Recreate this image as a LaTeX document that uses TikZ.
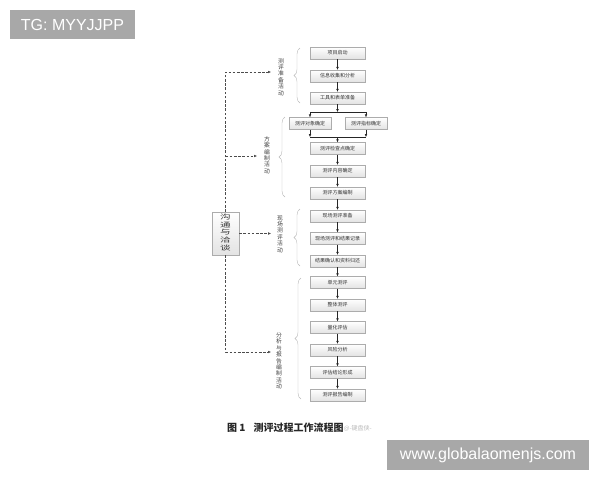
\documentclass[tikz,border=0pt]{standalone}
\usepackage{fontspec}
\setmainfont{Noto Sans CJK SC}
\newfontfamily\wmfont{Liberation Sans}
\usepackage{graphicx}
\usetikzlibrary{arrows.meta}
\usetikzlibrary{decorations.pathreplacing}
\definecolor{wmgray}{HTML}{A8A8A8}

\begin{document}
\begin{tikzpicture}[x=1pt, y=-1pt,
        stage/.style={draw=gray!65, top color=white, bottom color=gray!22, minimum width=55pt, minimum height=12pt, inner sep=0pt, font=\fontsize{5}{6}\selectfont, text=black!80},
        side/.style={stage, minimum width=42pt},
        flow/.style={-{Latex[length=3pt,width=2.6pt]}, black!85, thin},
        talk/.style={dash pattern=on 2.6pt off 1.6pt, black!70, thin},
        talkto/.style={talk, -{Latex[length=3pt,width=2.6pt]}},
        phase/.style={align=center, inner sep=0pt, font=\fontsize{5.8}{6.4}\selectfont, text=black!75},
        bracket/.style={decorate, decoration={brace, amplitude=6pt}, gray!55, thin},
        wmbox/.style={fill=wmgray, text=white, inner sep=0pt, font=\wmfont\fontsize{16}{18}\selectfont}]
        \useasboundingbox (0,0) rectangle (600,480);
        % main column
        \node[stage] (qd) at (337.5,53) {项目启动};
        \node[stage] (xx) at (337.5,76) {信息收集和分析};
        \node[stage] (gj) at (337.5,98) {工具和表单准备};
        \node[side] (dx) at (310,123.5) {测评对象确定};
        \node[side] (zb) at (366,123.5) {测评指标确定};
        \node[stage] (jc) at (337.5,148.5) {测评检查点确定};
        \node[stage] (nr) at (337.5,171) {测评内容确定};
        \node[stage] (fa) at (337.5,193) {测评方案编制};
        \node[stage] (xczb) at (337.5,216) {现场测评准备};
        \node[stage] (xcjl) at (337.5,238.5) {现场测评和结果记录};
        \node[stage] (jgqr) at (337.5,261) {结果确认和资料归还};
        \node[stage] (dy) at (337.5,282.5) {单元测评};
        \node[stage] (zt) at (337.5,305) {整体测评};
        \node[stage] (lh) at (337.5,327.5) {量化评估};
        \node[stage] (fx) at (337.5,350) {风险分析};
        \node[stage] (jl) at (337.5,372.5) {评估结论形成};
        \node[stage] (bg) at (337.5,395) {测评报告编制};
        \foreach \a/\b in {qd/xx, xx/gj, jc/nr, nr/fa, fa/xczb, xczb/xcjl, xcjl/jgqr, jgqr/dy, dy/zt, zt/lh, lh/fx, fx/jl, jl/bg}
                \draw[flow] (\a) -- (\b);
        % split and join
        \coordinate (fenA) at (337.5,112);
        \coordinate (fenL) at (310,112);
        \coordinate (fenR) at (366,112);
        \coordinate (heL) at (310,137);
        \coordinate (heR) at (366,137);
        \coordinate (heA) at (337.5,137);
        \draw[flow] (gj) -- (fenA);
        \draw[black!85, thin] (fenL) -- (fenR);
        \draw[flow] (fenL) -- (dx);
        \draw[flow] (fenR) -- (zb);
        \draw[flow] (dx) -- (heL);
        \draw[flow] (zb) -- (heR);
        \draw[black!85, thin] (heL) -- (heR);
        \draw[flow] (heA) -- (jc);
        % phases
        \draw[bracket] (300,103) -- (300,48);
        \draw[bracket] (285,197) -- (285,117);
        \draw[bracket] (300,266) -- (300,209);
        \draw[bracket] (301,399) -- (301,278);
        \node[phase] (zbhd) at (281,77) {测\\评\\准\\备\\活\\动};
        \node[phase] (fahd) at (267,155) {方\\案\\编\\制\\活\\动};
        \node[phase] (xchd) at (280,234) {现\\场\\测\\评\\活\\动};
        \node[phase] (bghd) at (279,361) {分\\析\\与\\报\\告\\编\\制\\活\\动};
        % communication
        \node[draw=gray!65, top color=white, bottom color=gray!22, minimum width=27pt, minimum height=43pt, inner sep=0pt, text=black!80, font=\fontsize{6.6}{7.6}\selectfont] (gt) at (225.5,233.5)
                {\scalebox{1.6}[1]{\begin{tabular}{@{}c@{}}沟\\通\\与\\洽\\谈\end{tabular}}};
        \coordinate (top) at (225.5,72);
        \coordinate (bot) at (225.5,352);
        \coordinate (fa0) at (225.5,156);
        \coordinate (to1) at (271,72);
        \coordinate (to2) at (257,156);
        \coordinate (to3) at (271,233.5);
        \coordinate (to4) at (271,352);
        \draw[talkto] (gt.north) -- (top) -- (to1);
        \draw[talkto] (fa0) -- (to2);
        \draw[talkto] (gt.east) -- (to3);
        \draw[talkto] (gt.south) -- (bot) -- (to4);
        % caption
        \node[anchor=west, inner sep=0pt, font=\fontsize{10}{12}\selectfont\bfseries, text=black!85] (cap) at (227,428) {图 1\hspace{8pt}测评过程工作流程图};
        \node[anchor=west, inner sep=0pt, font=\fontsize{6}{7}\selectfont, text=gray!55] (sig) at (cap.east) {@-键盘侠-};
        % overlays
        \node[wmbox, minimum width=125pt, minimum height=29pt] (tg) at (72.5,24.5) {TG: MYYJJPP};
        \node[wmbox, minimum width=202pt, minimum height=30pt] (web) at (488,455) {www.globalaomenjs.com};
\end{tikzpicture}
\end{document}
